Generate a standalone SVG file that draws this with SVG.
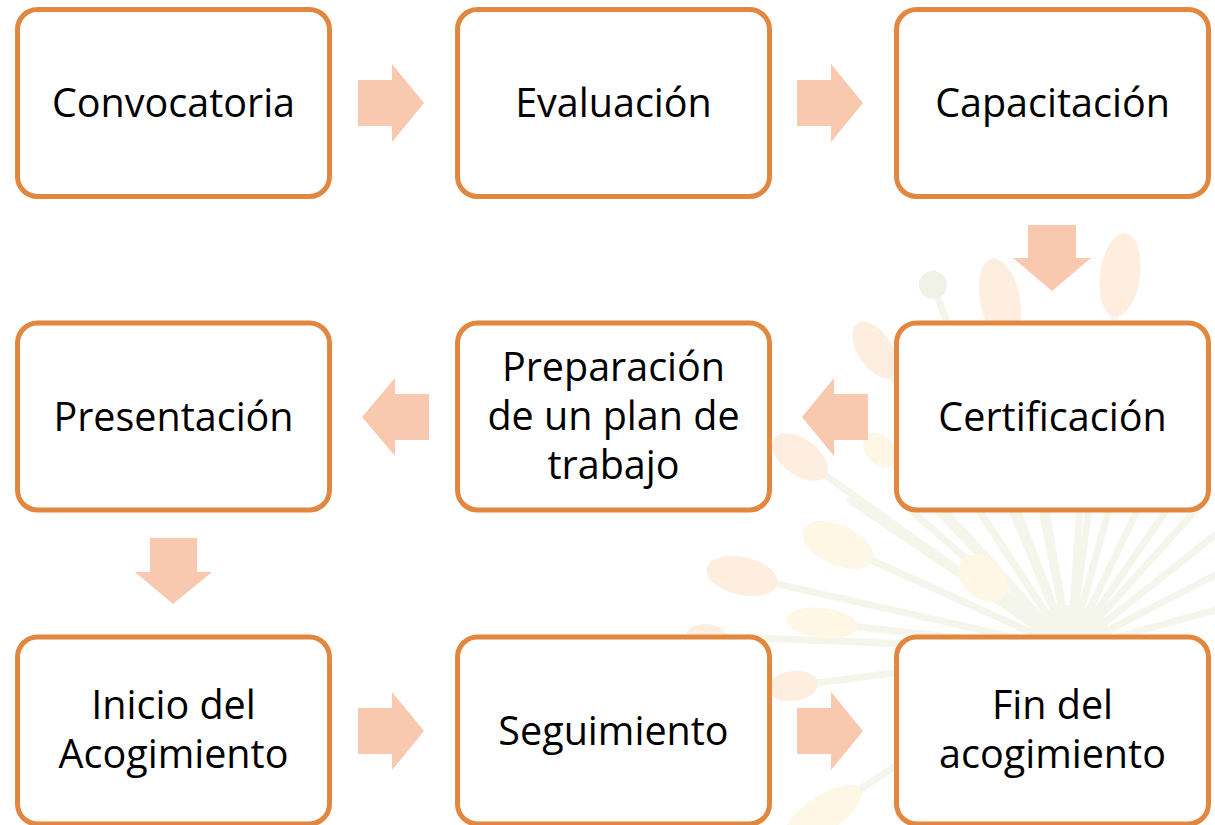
<svg xmlns="http://www.w3.org/2000/svg" width="1215" height="825" viewBox="0 0 1215 825">
<style>
.box{fill:#ffffff;stroke:#E2873F;stroke-width:5}
.lbl{font-family:"Open Sans","Liberation Sans",sans-serif;font-size:39.5px;fill:#000000;text-anchor:middle}
.arr{fill:#F9C9AF}
.ray{stroke:#ECEEDB;stroke-width:7;stroke-linecap:round;fill:none}
.bo{fill:#FCE1C7}
.by{fill:#FEF1D3}
</style>
<rect width="1215" height="825" fill="#ffffff"/>
<g id="background" opacity="0.55">
<g class="ray">
<line x1="1070" y1="650" x2="1000" y2="300"/>
<line x1="1070" y1="650" x2="1120" y2="275"/>
<line x1="1070" y1="650" x2="875" y2="350"/>
<line x1="1070" y1="650" x2="800" y2="457"/>
<line x1="1070" y1="650" x2="880" y2="450"/>
<line x1="1070" y1="650" x2="838" y2="545"/>
<line x1="1070" y1="650" x2="742" y2="576"/>
<line x1="1070" y1="650" x2="822" y2="623"/>
<line x1="1070" y1="650" x2="983" y2="578"/>
<line x1="1070" y1="650" x2="793" y2="686"/>
<line x1="1070" y1="650" x2="823" y2="814"/>
<line x1="1070" y1="650" x2="706" y2="636"/>
<line x1="1070" y1="650" x2="933" y2="285"/>
<line x1="1070" y1="650" x2="905" y2="505"/>
<line x1="1070" y1="650" x2="940" y2="505"/>
<line x1="1070" y1="650" x2="975" y2="505"/>
<line x1="1070" y1="650" x2="1010" y2="505"/>
<line x1="1070" y1="650" x2="1045" y2="505"/>
<line x1="1070" y1="650" x2="1080" y2="505"/>
<line x1="1070" y1="650" x2="1110" y2="505"/>
<line x1="1070" y1="650" x2="1140" y2="505"/>
<line x1="1070" y1="650" x2="1170" y2="505"/>
<line x1="1070" y1="650" x2="1200" y2="505"/>
<line x1="1070" y1="650" x2="1215" y2="535"/>
<line x1="1070" y1="650" x2="1215" y2="575"/>
<line x1="1070" y1="650" x2="1215" y2="610"/>
<line x1="1070" y1="650" x2="850" y2="500"/>
</g>
<circle cx="1070" cy="650" r="45" fill="#ECEEDB"/>
<circle cx="933" cy="285" r="14" fill="#E4E9D6"/>
<ellipse class="bo" cx="1000" cy="300" rx="42" ry="20" transform="rotate(-101.3 1000 300)"/>
<ellipse class="bo" cx="1120" cy="275" rx="42" ry="20" transform="rotate(-82.4 1120 275)"/>
<ellipse class="bo" cx="875" cy="350" rx="32" ry="17" transform="rotate(-123 875 350)"/>
<ellipse class="bo" cx="800" cy="457" rx="32" ry="18" transform="rotate(-144.4 800 457)"/>
<ellipse class="by" cx="880" cy="450" rx="20" ry="14" transform="rotate(-133.5 880 450)"/>
<ellipse class="by" cx="838" cy="545" rx="38" ry="20" transform="rotate(-155.7 838 545)"/>
<ellipse class="bo" cx="742" cy="576" rx="36" ry="19" transform="rotate(-167.3 742 576)"/>
<ellipse class="by" cx="822" cy="623" rx="36" ry="15" transform="rotate(-173.8 822 623)"/>
<ellipse class="by" cx="983" cy="578" rx="28" ry="20" transform="rotate(-140.4 983 578)"/>
<ellipse class="bo" cx="793" cy="686" rx="25" ry="15" transform="rotate(172.6 793 686)"/>
<ellipse class="by" cx="823" cy="814" rx="45" ry="18" transform="rotate(146.4 823 814)"/>
<ellipse class="bo" cx="706" cy="636" rx="20" ry="12" transform="rotate(-177.8 706 636)"/>
</g>
<g id="connectors">
<polygon class="arr" points="358,80 392,80 392,64 424,103 392,142 392,126 358,126"/>
<polygon class="arr" points="797,80 831,80 831,64 863,103 831,142 831,126 797,126"/>
<polygon class="arr" points="1028,225 1076,225 1076,258 1091,258 1052,291 1013,258 1028,258"/>
<polygon class="arr" points="802,417 834,378 834,394 868,394 868,440 834,440 834,456"/>
<polygon class="arr" points="362,417 395,378 395,394 429,394 429,440 395,440 395,456"/>
<polygon class="arr" points="150,538 197,538 197,572 212,572 173,604 135,572 150,572"/>
<polygon class="arr" points="358,708 392,708 392,692 424,731 392,770 392,754 358,754"/>
<polygon class="arr" points="797,708 831,708 831,692 863,731 831,770 831,754 797,754"/>
</g>
<g id="n1"><rect class="box" x="17.5" y="9.5" width="312" height="187" rx="20"/><text class="lbl" x="173.5" y="117">Convocatoria</text></g>
<g id="n2"><rect class="box" x="457.5" y="9.5" width="312" height="187" rx="20"/><text class="lbl" x="613.5" y="117">Evaluación</text></g>
<g id="n3"><rect class="box" x="896.5" y="9.5" width="312" height="187" rx="20"/><text class="lbl" x="1052.5" y="117">Capacitación</text></g>
<g id="n4"><rect class="box" x="896.5" y="323" width="312" height="187" rx="20"/><text class="lbl" x="1052.5" y="431">Certificación</text></g>
<g id="n5"><rect class="box" x="457.5" y="323" width="312" height="187" rx="20"/><text class="lbl" x="613.5" y="381">Preparación</text><text class="lbl" x="613.5" y="430">de un plan de</text><text class="lbl" x="613.5" y="479">trabajo</text></g>
<g id="n6"><rect class="box" x="17.5" y="323" width="312" height="187" rx="20"/><text class="lbl" x="173.5" y="431">Presentación</text></g>
<g id="n7"><rect class="box" x="17.5" y="637" width="312" height="187" rx="20"/><text class="lbl" x="173.5" y="719">Inicio del</text><text class="lbl" x="173.5" y="768">Acogimiento</text></g>
<g id="n8"><rect class="box" x="457.5" y="637" width="312" height="187" rx="20"/><text class="lbl" x="613.5" y="745">Seguimiento</text></g>
<g id="n9"><rect class="box" x="896.5" y="637" width="312" height="187" rx="20"/><text class="lbl" x="1052.5" y="719">Fin del</text><text class="lbl" x="1052.5" y="768">acogimiento</text></g>
</svg>
